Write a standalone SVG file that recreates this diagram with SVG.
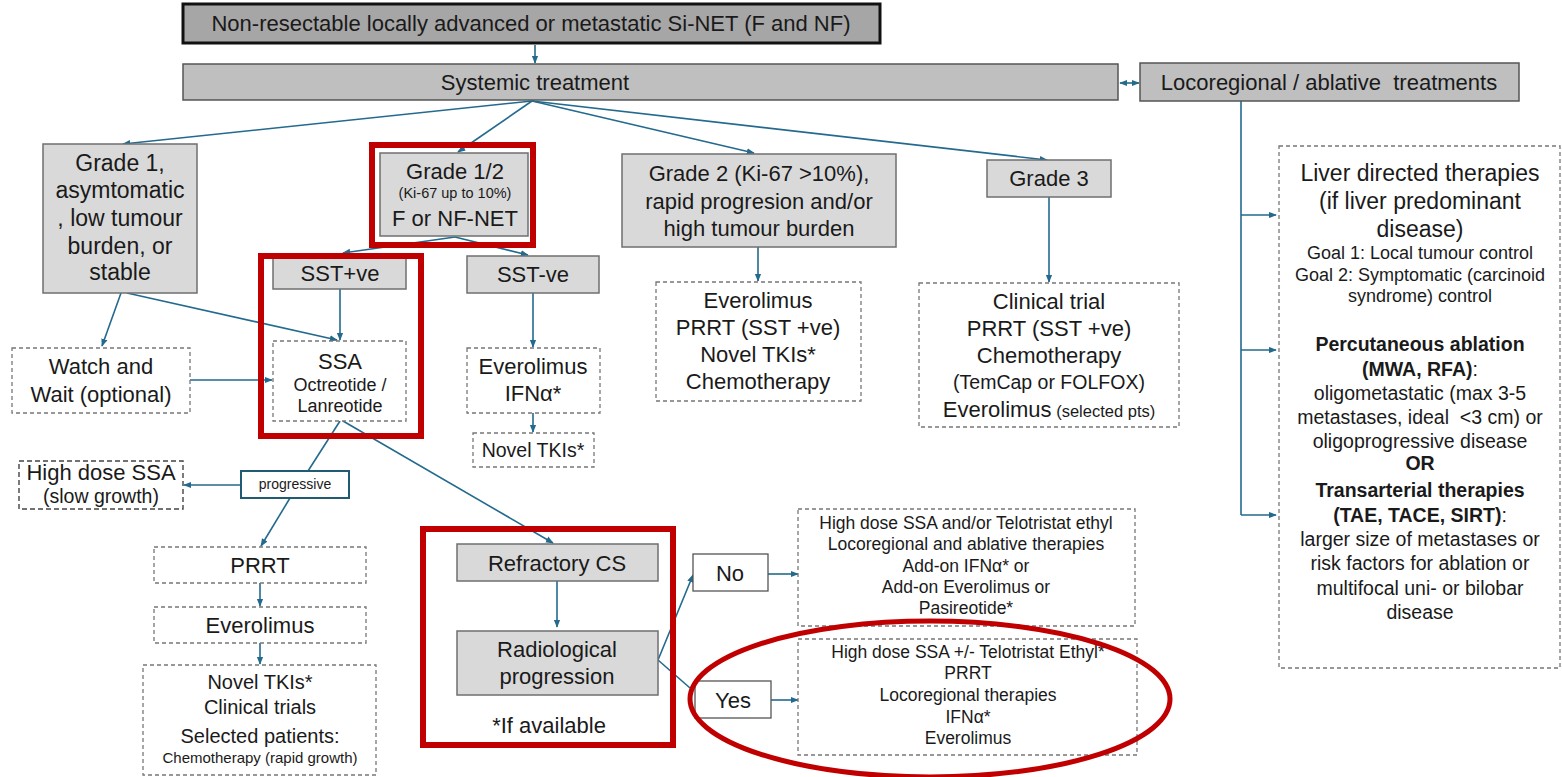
<svg xmlns="http://www.w3.org/2000/svg" width="1562" height="777" viewBox="0 0 1562 777">
<defs>
<marker id="ah" viewBox="0 0 10 10" refX="9" refY="5" markerWidth="8" markerHeight="8" markerUnits="userSpaceOnUse" orient="auto-start-reverse"><path d="M0,1 L10,5 L0,9 z" fill="#236a8e"/></marker>
</defs>
<style>
text{font-family:"Liberation Sans",Arial,sans-serif;fill:#1a1a1a;text-anchor:middle}
.g{fill:#d9d9d9;stroke:#6f6f6f;stroke-width:1.5}
.g2{fill:#bfbfbf;stroke:#555;stroke-width:1.5}
.d{fill:#fff;stroke:#777;stroke-width:1.3;stroke-dasharray:4 3}
.w{fill:#fff;stroke:#555;stroke-width:1.3}
.red{fill:none;stroke:#c00000;stroke-width:6}
.c{stroke:#236a8e;stroke-width:1.6;fill:none}
.ca{stroke:#236a8e;stroke-width:1.6;fill:none;marker-end:url(#ah)}
.f23{font-size:23px}
.f22{font-size:22px}
.f20{font-size:20px}
.f19{font-size:19.5px}
.f17{font-size:17.5px}
.f18{font-size:18px}
.f13{font-size:14px}
.b{font-weight:bold}
</style>

<g id="connectors">
<line class="ca" x1="535" y1="45" x2="535" y2="63"/>
<line class="ca" x1="1120" y1="83" x2="1139" y2="83" style="marker-start:url(#ah)"/>
<line class="ca" x1="532" y1="101" x2="123" y2="144"/>
<line class="ca" x1="532" y1="101" x2="458" y2="152"/>
<line class="ca" x1="532" y1="101" x2="754" y2="153"/>
<line class="ca" x1="532" y1="101" x2="1047" y2="160"/>
<line class="c" x1="1241" y1="101" x2="1241" y2="515"/>
<line class="ca" x1="1241" y1="215" x2="1276" y2="215"/>
<line class="ca" x1="1241" y1="350" x2="1276" y2="350"/>
<line class="ca" x1="1241" y1="515" x2="1276" y2="515"/>
<line class="ca" x1="121" y1="293" x2="102" y2="346"/>
<line class="ca" x1="127" y1="293" x2="337" y2="340"/>
<line class="ca" x1="455" y1="237" x2="343" y2="253"/>
<line class="ca" x1="455" y1="237" x2="528" y2="255"/>
<line class="ca" x1="340" y1="289" x2="340" y2="340"/>
<line class="ca" x1="190" y1="380" x2="272" y2="380"/>
<line class="ca" x1="533" y1="293" x2="533" y2="347"/>
<line class="ca" x1="533" y1="413" x2="533" y2="432"/>
<line class="ca" x1="758" y1="247" x2="758" y2="281"/>
<line class="ca" x1="1049" y1="197" x2="1049" y2="282"/>
<line class="c" x1="340" y1="421" x2="308" y2="471"/>
<line class="ca" x1="241" y1="485" x2="184" y2="485"/>
<line class="ca" x1="290" y1="498" x2="261" y2="546"/>
<line class="ca" x1="260" y1="583" x2="260" y2="606"/>
<line class="ca" x1="260" y1="643" x2="260" y2="664"/>
<line class="ca" x1="343" y1="421" x2="553" y2="543"/>
<line class="ca" x1="557" y1="581" x2="557" y2="627"/>
<line class="ca" x1="658" y1="660" x2="693" y2="575"/>
<line class="c" x1="658" y1="660" x2="690" y2="688"/>
<line class="ca" x1="768" y1="574" x2="798" y2="574"/>
<line class="ca" x1="771" y1="700" x2="798" y2="700"/>
</g>

<g id="n-top">
<rect x="183" y="4" width="697" height="39" fill="#a6a6a6" stroke="#111" stroke-width="3"/>
<text class="f22" x="531" y="31">Non-resectable locally advanced or metastatic Si-NET (F and NF)</text>
</g>

<g id="n-systemic">
<rect class="g2" x="183" y="64" width="935" height="36"/>
<text class="f22" x="535" y="90">Systemic treatment</text>
</g>

<g id="n-locoregional">
<rect class="g2" x="1140" y="63" width="379" height="38"/>
<text class="f22" x="1329" y="90" xml:space="preserve">Locoregional / ablative  treatments</text>
</g>

<g id="n-liver">
<rect class="d" x="1279" y="146" width="281" height="522"/>
<text class="f23" x="1420" y="181">Liver directed therapies</text>
<text class="f23" x="1420" y="209">(if liver predominant</text>
<text class="f23" x="1420" y="237">disease)</text>
<text class="f18" x="1420" y="259">Goal 1: Local tumour control</text>
<text class="f18" x="1420" y="281">Goal 2: Symptomatic (carcinoid</text>
<text class="f18" x="1420" y="302">syndrome) control</text>
<text class="f19 b" x="1420" y="351">Percutaneous ablation</text>
<text class="f19" x="1420" y="376"><tspan font-weight="bold">(MWA, RFA)</tspan>:</text>
<text class="f19" x="1420" y="400">oligometastatic (max 3-5</text>
<text class="f19" x="1420" y="424" xml:space="preserve">metastases, ideal  &lt;3 cm) or</text>
<text class="f19" x="1420" y="448">oligoprogressive disease</text>
<text class="f19 b" x="1420" y="470">OR</text>
<text class="f19 b" x="1420" y="497">Transarterial therapies</text>
<text class="f19" x="1420" y="522"><tspan font-weight="bold">(TAE, TACE, SIRT)</tspan>:</text>
<text class="f19" x="1420" y="546">larger size of metastases or</text>
<text class="f19" x="1420" y="570">risk factors for ablation or</text>
<text class="f19" x="1420" y="595">multifocal uni- or bilobar</text>
<text class="f19" x="1420" y="619">disease</text>
</g>

<g id="n-grade1">
<rect class="g" x="43" y="144" width="154" height="149"/>
<text class="f23" x="120" y="171">Grade 1,</text>
<text class="f23" x="120" y="198">asymtomatic</text>
<text class="f23" x="120" y="226">, low tumour</text>
<text class="f23" x="120" y="254">burden, or</text>
<text class="f23" x="120" y="280">stable</text>
</g>

<g id="n-grade12">
<rect class="g" x="380" y="153" width="148" height="83"/>
<text class="f22" x="455" y="179">Grade 1/2</text>
<text x="455" y="198" font-size="14.5">(Ki-67 up to 10%)</text>
<text class="f22" x="455" y="226">F or NF-NET</text>
<rect class="red" x="372" y="145" width="161" height="100"/>
</g>

<g id="n-grade2">
<rect class="g" x="622" y="154" width="274" height="93"/>
<text class="f22" x="759" y="181">Grade 2 (Ki-67 &gt;10%),</text>
<text class="f22" x="759" y="209">rapid progresion and/or</text>
<text class="f22" x="759" y="236">high tumour burden</text>
</g>

<g id="n-grade3">
<rect class="g" x="987" y="160" width="124" height="37"/>
<text class="f22" x="1049" y="186">Grade 3</text>
</g>

<g id="n-watch">
<rect class="d" x="12" y="348" width="178" height="65"/>
<text class="f22" x="101" y="374">Watch and</text>
<text class="f22" x="101" y="402">Wait (optional)</text>
</g>

<g id="n-sstpos">
<rect class="g" x="273" y="258" width="133" height="31"/>
<text class="f22" x="340" y="281">SST+ve</text>
</g>

<g id="n-ssa">
<rect class="d" x="273" y="341" width="133" height="80"/>
<text class="f22" x="340" y="369">SSA</text>
<text class="f18" x="340" y="391">Octreotide /</text>
<text class="f18" x="340" y="412">Lanreotide</text>
<rect class="red" x="261" y="256" width="160" height="180"/>
</g>

<g id="n-sstneg">
<rect class="g" x="467" y="256" width="132" height="37"/>
<text class="f22" x="533" y="282">SST-ve</text>
</g>

<g id="n-evero-ifn">
<rect class="d" x="467" y="348" width="133" height="65"/>
<text class="f22" x="533" y="374">Everolimus</text>
<text class="f22" x="533" y="401">IFNα*</text>
</g>

<g id="n-tki1">
<rect class="d" x="473" y="433" width="121" height="34"/>
<text class="f19" x="533" y="457">Novel TKIs*</text>
</g>

<g id="n-g2-options">
<rect class="d" x="656" y="282" width="205" height="119"/>
<text class="f22" x="758" y="308">Everolimus</text>
<text class="f22" x="758" y="335">PRRT (SST +ve)</text>
<text class="f22" x="758" y="362">Novel TKIs*</text>
<text class="f22" x="758" y="389">Chemotherapy</text>
</g>

<g id="n-g3-options">
<rect class="d" x="919" y="283" width="260" height="144"/>
<text class="f22" x="1049" y="309">Clinical trial</text>
<text class="f22" x="1049" y="336">PRRT (SST +ve)</text>
<text class="f22" x="1049" y="363">Chemotherapy</text>
<text class="f19" x="1049" y="389">(TemCap or FOLFOX)</text>
<text x="1049" y="417"><tspan font-size="22">Everolimus</tspan><tspan font-size="16.5"> (selected pts)</tspan></text>
</g>

<g id="n-progressive">
<rect x="241" y="471" width="108" height="27" fill="#fff" stroke="#215a73" stroke-width="2"/>
<text class="f13" x="295" y="489">progressive</text>
</g>

<g id="n-highdose">
<rect x="19" y="461" width="164" height="48" fill="#fff" stroke="#444" stroke-width="1.4" stroke-dasharray="5 3"/>
<text class="f22" x="101" y="480">High dose SSA</text>
<text x="101" y="503" font-size="19.5">(slow growth)</text>
</g>

<g id="n-prrt">
<rect class="d" x="154" y="547" width="212" height="36"/>
<text class="f22" x="260" y="573">PRRT</text>
</g>

<g id="n-evero2">
<rect class="d" x="154" y="607" width="212" height="36"/>
<text class="f22" x="260" y="633">Everolimus</text>
</g>

<g id="n-tki2">
<rect class="d" x="143" y="665" width="233" height="110"/>
<text class="f20" x="260" y="689">Novel TKIs*</text>
<text class="f20" x="260" y="714">Clinical trials</text>
<text class="f20" x="260" y="743">Selected patients:</text>
<text x="260" y="763" font-size="15">Chemotherapy (rapid growth)</text>
</g>

<g id="n-refractory">
<rect class="g" x="457" y="544" width="201" height="37"/>
<text class="f22" x="557" y="571">Refractory CS</text>
</g>

<g id="n-radiological">
<rect class="g" x="457" y="631" width="201" height="64"/>
<text class="f22" x="557" y="657">Radiological</text>
<text class="f22" x="557" y="684">progression</text>
<text class="f22" x="549" y="733">*If available</text>
<rect class="red" x="423" y="529" width="250" height="216"/>
</g>

<g id="n-no">
<rect class="w" x="693" y="554" width="75" height="37"/>
<text class="f22" x="730" y="581">No</text>
</g>

<g id="n-yes">
<rect class="w" x="695" y="681" width="76" height="37"/>
<text class="f22" x="733" y="708">Yes</text>
</g>

<g id="n-no-options">
<rect class="d" x="798" y="509" width="337" height="117"/>
<text class="f17" x="966" y="529">High dose SSA and/or Telotristat ethyl</text>
<text class="f17" x="966" y="550">Locoregional and ablative therapies</text>
<text class="f17" x="966" y="572">Add-on IFNα* or</text>
<text class="f17" x="966" y="593">Add-on Everolimus or</text>
<text class="f17" x="966" y="614">Pasireotide*</text>
</g>

<g id="n-yes-options">
<rect class="d" x="798" y="639" width="339" height="116"/>
<text class="f17" x="968" y="658">High dose SSA +/- Telotristat Ethyl*</text>
<text class="f17" x="968" y="679">PRRT</text>
<text class="f17" x="968" y="701">Locoregional therapies</text>
<text class="f17" x="968" y="723">IFNα*</text>
<text class="f17" x="968" y="744">Everolimus</text>
<ellipse cx="930" cy="699" rx="240" ry="78" fill="none" stroke="#c00000" stroke-width="5"/>
</g>
</svg>
